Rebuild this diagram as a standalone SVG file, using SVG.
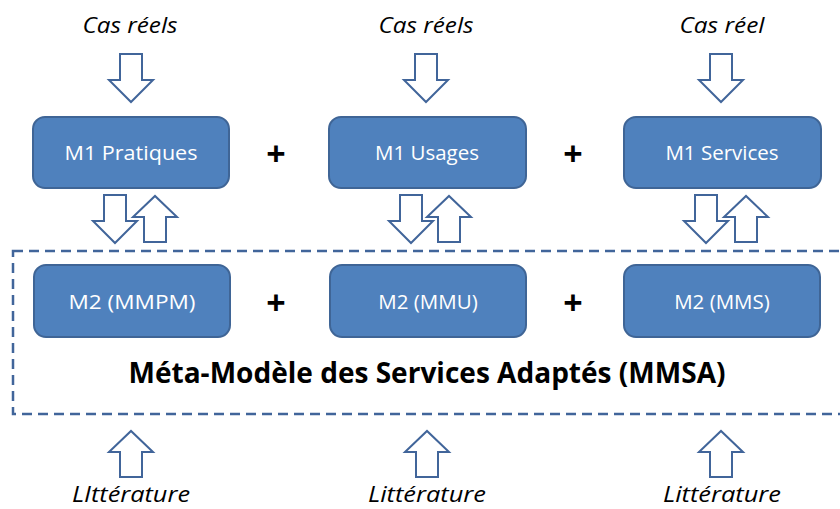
<svg xmlns="http://www.w3.org/2000/svg" width="840" height="509" viewBox="0 0 840 509">
<style>
.box{fill:#4f81bd;stroke:#3f6596;stroke-width:2}
.bt{font-family:"Open Sans","Liberation Sans",sans-serif;font-size:20.5px;fill:#ffffff;text-anchor:middle}
.arr{fill:#ffffff;stroke:#41659a;stroke-width:2;stroke-linejoin:miter}
.lbl{font-family:"Open Sans","Liberation Sans",sans-serif;font-size:22px;font-style:italic;fill:#000000;text-anchor:middle}
.plus{font-family:"Open Sans","Liberation Sans",sans-serif;font-size:34px;font-weight:bold;fill:#000000;text-anchor:middle}
.title{font-family:"Open Sans","Liberation Sans",sans-serif;font-size:28px;font-weight:bold;fill:#000000;text-anchor:middle}
.dash{fill:none;stroke:#41659a;stroke-width:2.5;stroke-dasharray:10 6}
</style>
<defs>
<path id="down" class="arr" d="M-11,0 H11 V26 H22 L0,48 L-22,26 H-11 Z"/>
<path id="up" class="arr" d="M-11,0 H11 V-25 H22 L0,-46 L-22,-25 H-11 Z"/>
</defs>

<g id="container">
<rect class="dash" x="13" y="251" width="840" height="163"/>
<text class="title" x="427" y="383" textLength="597" lengthAdjust="spacingAndGlyphs">Méta-Modèle des Services Adaptés (MMSA)</text>
</g>

<g id="labels-top">
<text class="lbl" x="130" y="33" textLength="95" lengthAdjust="spacingAndGlyphs">Cas réels</text>
<text class="lbl" x="426" y="33" textLength="95" lengthAdjust="spacingAndGlyphs">Cas réels</text>
<text class="lbl" x="722" y="33" textLength="85" lengthAdjust="spacingAndGlyphs">Cas réel</text>
</g>

<g id="m1-pratiques">
<rect class="box" x="33" y="117" width="196" height="71" rx="12"/>
<text class="bt" x="131" y="160" textLength="133" lengthAdjust="spacingAndGlyphs">M1 Pratiques</text>
</g>
<g id="m1-usages">
<rect class="box" x="329" y="117" width="197" height="71" rx="12"/>
<text class="bt" x="427" y="160">M1 Usages</text>
</g>
<g id="m1-services">
<rect class="box" x="624" y="117" width="197" height="71" rx="12"/>
<text class="bt" x="722" y="160">M1 Services</text>
</g>

<g id="m2-mmpm">
<rect class="box" x="34" y="265" width="196" height="72" rx="12"/>
<text class="bt" x="132" y="309" textLength="127" lengthAdjust="spacingAndGlyphs">M2 (MMPM)</text>
</g>
<g id="m2-mmu">
<rect class="box" x="330" y="265" width="196" height="72" rx="12"/>
<text class="bt" x="428" y="309">M2 (MMU)</text>
</g>
<g id="m2-mms">
<rect class="box" x="624" y="265" width="196" height="72" rx="12"/>
<text class="bt" x="722" y="309">M2 (MMS)</text>
</g>

<g id="plus-signs">
<text class="plus" x="276" y="166">+</text>
<text class="plus" x="573" y="166">+</text>
<text class="plus" x="276" y="315">+</text>
<text class="plus" x="573" y="315">+</text>
</g>

<g id="connectors">
<use href="#down" x="131" y="54"/>
<use href="#down" x="426" y="54"/>
<use href="#down" x="721" y="54"/>
<use href="#down" x="115" y="195"/>
<use href="#up" x="155" y="242"/>
<use href="#down" x="411" y="195"/>
<use href="#up" x="449" y="242"/>
<use href="#down" x="706" y="195"/>
<use href="#up" x="746" y="242"/>
<use href="#up" x="131" y="477"/>
<use href="#up" x="427" y="477"/>
<use href="#up" x="721" y="477"/>
</g>

<g id="labels-bottom">
<text class="lbl" x="131" y="502" textLength="118" lengthAdjust="spacingAndGlyphs">LIttérature</text>
<text class="lbl" x="427" y="502" textLength="118" lengthAdjust="spacingAndGlyphs">Littérature</text>
<text class="lbl" x="722" y="502" textLength="118" lengthAdjust="spacingAndGlyphs">Littérature</text>
</g>
</svg>
